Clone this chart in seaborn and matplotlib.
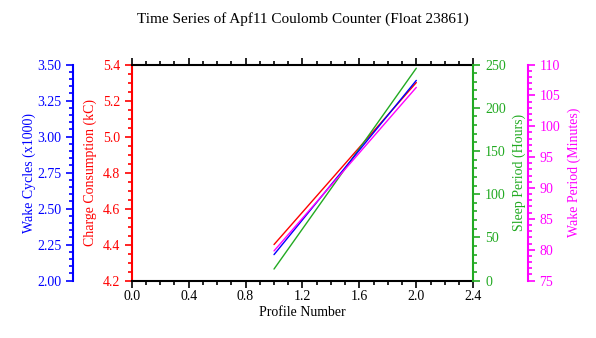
import matplotlib
matplotlib.use('Agg')
import matplotlib.pyplot as plt
import seaborn as sns
import pandas as pd
from matplotlib.ticker import MultipleLocator

# ---- data ----
profile = [1, 2]
wake_cycles = [2.18, 3.39]        # x1000
charge = [4.40, 5.30]             # kC
sleep_period = [13.3, 245.8]      # hours
wake_period = [79.8, 106.3]       # minutes

xticks = [0.0, 0.4, 0.8, 1.2, 1.6, 2.0, 2.4]

df = pd.DataFrame({
    'profile': profile,
    'wake_cycles': wake_cycles,
    'charge': charge,
    'sleep_period': sleep_period,
    'wake_period': wake_period,
})

sns.set_theme(style='ticks')
plt.rcParams['font.family'] = ['Liberation Serif', 'DejaVu Serif']

BLUE = '#0000ff'
RED = '#ff0000'
GREEN = '#22aa22'
MAG = '#ff00ff'
FS = 10
SPW = 1.5

fig = plt.figure(figsize=(5.96, 3.38), dpi=100)
ax = fig.add_axes([0.221, 0.170, 0.573, 0.639])

ax_g = ax.twinx()
ax_b = ax.twinx()
ax_m = ax.twinx()

sns.lineplot(data=df, x='profile', y='sleep_period', ax=ax_g, color=GREEN, lw=1)
sns.lineplot(data=df, x='profile', y='wake_period', ax=ax_m, color=MAG, lw=1)
sns.lineplot(data=df, x='profile', y='charge', ax=ax, color=RED, lw=1)
sns.lineplot(data=df, x='profile', y='wake_cycles', ax=ax_b, color=BLUE, lw=1)

# main axes: x + red left axis
ax.set_xlim(0, 2.4)
ax.set_xticks(xticks)
ax.set_xticklabels([f'{v:.1f}' for v in xticks])
ax.xaxis.set_minor_locator(MultipleLocator(0.1))
ax.set_xlabel('Profile Number', fontsize=FS, color='black', labelpad=2)
ax.tick_params(axis='x', which='both', top=True, bottom=True, direction='out',
               labelsize=FS, colors='black', width=1.2, pad=2)
ax.tick_params(axis='x', which='major', length=5)
ax.tick_params(axis='x', which='minor', length=3)

ax.set_ylim(4.2, 5.4)
ax.yaxis.set_major_locator(MultipleLocator(0.2))
ax.yaxis.set_minor_locator(MultipleLocator(0.05))
ax.set_ylabel('Charge Consumption (kC)', fontsize=FS, color=RED, labelpad=4)
ax.tick_params(axis='y', which='both', left=True, right=False, colors=RED,
               labelsize=FS, width=1.2, direction='out')
ax.tick_params(axis='y', which='major', length=5)
ax.tick_params(axis='y', which='minor', length=3)
ax.set_yticks(ax.get_yticks())
ax.set_yticklabels([f'{v:.1f}' for v in ax.get_yticks()])
ax.set_ylim(4.2, 5.4)
ax.spines['left'].set_color(RED)
ax.spines['right'].set_visible(False)
for s in ['left', 'top', 'bottom']:
    ax.spines[s].set_linewidth(SPW)
ax.spines['top'].set_color('black')
ax.spines['bottom'].set_color('black')

def style_twin(a, side, color, lo, hi, major, minor, label, fmt, offset_pt, lpad):
    a.set_ylim(lo, hi)
    a.yaxis.set_major_locator(MultipleLocator(major))
    a.yaxis.set_minor_locator(MultipleLocator(minor))
    for s in ['left', 'right', 'top', 'bottom']:
        a.spines[s].set_visible(False)
    a.spines[side].set_visible(True)
    a.spines[side].set_color(color)
    a.spines[side].set_linewidth(SPW)
    if offset_pt:
        a.spines[side].set_position(('outward', offset_pt))
    if side == 'left':
        a.yaxis.tick_left()
        a.yaxis.set_label_position('left')
    else:
        a.yaxis.tick_right()
        a.yaxis.set_label_position('right')
    a.tick_params(axis='y', which='both', colors=color, labelsize=FS,
                  width=1.2, direction='out')
    a.tick_params(axis='y', which='major', length=5)
    a.tick_params(axis='y', which='minor', length=3)
    a.set_yticks(a.get_yticks())
    a.set_yticklabels([fmt.format(v) for v in a.get_yticks()])
    a.set_ylim(lo, hi)
    a.set_ylabel(label, fontsize=FS, color=color, labelpad=lpad)
    a.set_xlabel('')

style_twin(ax_g, 'right', GREEN, 0, 250, 50, 10, 'Sleep Period (Hours)', '{:.0f}', 0, 5)
style_twin(ax_b, 'left', BLUE, 2.0, 3.5, 0.25, 0.05, 'Wake Cycles (x1000)', '{:.2f}', 42.3, 1)
style_twin(ax_m, 'right', MAG, 75, 110, 5, 1, 'Wake Period (Minutes)', '{:.0f}', 39.2, 5)

ax.set_title('Time Series of Apf11 Coulomb Counter (Float 23861)', fontsize=11,
             color='black', pad=30)

fig.savefig('out.png', dpi=100)
